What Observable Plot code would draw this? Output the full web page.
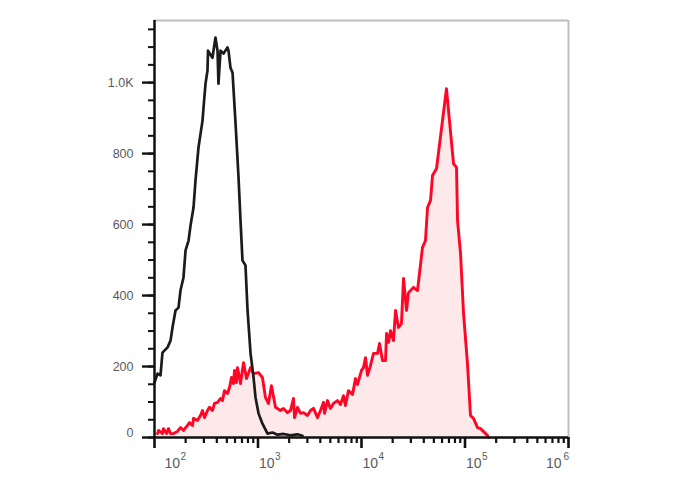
<!DOCTYPE html>
<html>
<head>
<meta charset="utf-8">
<script src="https://cdn.jsdelivr.net/npm/d3@7"></script>
<script src="https://cdn.jsdelivr.net/npm/@observablehq/plot@0.6"></script>
<style>
  html, body { margin: 0; padding: 0; background: #fff; }
  #chart svg { display: block; }
</style>
</head>
<body>
<div id="chart"></div>
<script>
// Black histogram (unstained control): log10 of fluorescence, event count
const blackLog = [2.000, 2.029, 2.058, 2.077, 2.126, 2.155, 2.174, 2.203, 2.232, 2.251, 2.280, 2.300, 2.329, 2.348, 2.377, 2.396, 2.425, 2.464, 2.473, 2.493, 2.512, 2.517, 2.560, 2.589, 2.609, 2.618, 2.638, 2.667, 2.705, 2.715, 2.734, 2.754, 2.783, 2.812, 2.831, 2.850, 2.879, 2.899, 2.928, 2.957, 2.976, 3.005, 3.043, 3.092, 3.140, 3.188, 3.250, 3.314, 3.380, 3.430];
const blackCount = [155, 180, 175, 239, 254, 273, 310, 358, 366, 414, 451, 527, 555, 597, 648, 724, 817, 893, 927, 997, 1034, 1090, 1070, 1127, 1090, 997, 1090, 1082, 1099, 1090, 1042, 1028, 885, 732, 611, 499, 485, 358, 237, 169, 113, 68, 39, 11, 14, 8, 10, 6, 9, 5];

// Red histogram (stained sample)
const redLog = [2.029, 2.039, 2.077, 2.087, 2.116, 2.135, 2.155, 2.184, 2.222, 2.251, 2.280, 2.319, 2.338, 2.367, 2.377, 2.415, 2.444, 2.464, 2.483, 2.512, 2.531, 2.560, 2.580, 2.609, 2.638, 2.657, 2.676, 2.705, 2.725, 2.744, 2.763, 2.773, 2.792, 2.802, 2.831, 2.860, 2.889, 2.928, 2.957, 3.005, 3.043, 3.072, 3.101, 3.130, 3.169, 3.217, 3.246, 3.285, 3.314, 3.343, 3.353, 3.382, 3.411, 3.440, 3.478, 3.507, 3.536, 3.575, 3.604, 3.633, 3.643, 3.671, 3.700, 3.729, 3.768, 3.797, 3.826, 3.845, 3.874, 3.913, 3.942, 3.961, 4.000, 4.019, 4.039, 4.058, 4.087, 4.116, 4.155, 4.174, 4.203, 4.232, 4.242, 4.261, 4.280, 4.309, 4.329, 4.357, 4.386, 4.406, 4.435, 4.454, 4.502, 4.541, 4.589, 4.618, 4.638, 4.667, 4.686, 4.725, 4.821, 4.889, 4.918, 4.928, 4.957, 4.986, 5.024, 5.053, 5.082, 5.121, 5.150, 5.217, 5.227];
const redCount = [11, 20, 11, 25, 11, 25, 11, 11, 17, 28, 20, 34, 42, 34, 54, 48, 62, 76, 56, 76, 85, 76, 96, 99, 110, 104, 132, 124, 141, 169, 152, 189, 155, 197, 152, 211, 166, 197, 180, 183, 169, 113, 96, 146, 85, 76, 82, 70, 76, 110, 56, 85, 68, 70, 62, 76, 82, 56, 76, 99, 68, 104, 82, 96, 104, 93, 118, 90, 132, 121, 166, 149, 189, 197, 225, 175, 203, 237, 237, 265, 217, 217, 293, 268, 301, 273, 358, 310, 321, 448, 358, 408, 423, 414, 535, 555, 648, 668, 738, 758, 983, 772, 761, 611, 518, 349, 208, 62, 54, 28, 25, 6, 0];

// Axis ticks and labels
const xMajor = [1e2, 1e3, 1e4, 1e5, 1e6];
const xExp = ["2", "3", "4", "5", "6"];
const xMinor = [2,3,4,5,6,7,8,9].flatMap(m => [1e2, 1e3, 1e4, 1e5].map(p => m * p));
const yMajor = [0, 200, 400, 600, 800, 1000];
const yLabels = ["0", "200", "400", "600", "800", "1.0K"];
const yMinor = d3.range(0, 1151, 50);
const yMax = 1175;

const black = blackLog.map((l, i) => ({x: 10 ** l, y: blackCount[i]}));
const red = redLog.map((l, i) => ({x: 10 ** l, y: redCount[i]}));

const font = "'Liberation Sans', Arial, Helvetica, sans-serif";
const labelColor = "#5a5a5a";

const xi = xMajor.map((d, i) => ({v: d, e: xExp[i], i}));
const yi = yMajor.map((d, i) => ({v: d, t: yLabels[i]}));

const chart = Plot.plot({
  width: 688,
  height: 490,
  marginLeft: 154,
  marginRight: 120,
  marginTop: 20,
  marginBottom: 53,
  style: {fontFamily: font, background: "#fff"},
  x: {type: "log", domain: [1e2, 1e6]},
  y: {domain: [0, yMax]},
  marks: [
    // histograms
    Plot.areaY(red, {x: "x", y: "y", fill: "#fde9ea"}),
    Plot.lineY(red, {x: "x", y: "y", stroke: "#ff0626", strokeWidth: 2.9, strokeLinejoin: "round"}),
    Plot.lineY(black, {x: "x", y: "y", stroke: "#1b1b1b", strokeWidth: 2.7, strokeLinejoin: "round"}),
    // frame: grey top/right, black left/bottom
    Plot.ruleY([yMax], {stroke: "#bdbdbd", strokeWidth: 2}),
    Plot.ruleX([1e6], {stroke: "#bdbdbd", strokeWidth: 2}),
    Plot.ruleX([1e2], {stroke: "#111", strokeWidth: 2.5}),
    Plot.ruleY([0], {stroke: "#111", strokeWidth: 2.5}),
    // y ticks
    Plot.axisY({ticks: yMajor, tickSize: 12, strokeWidth: 2.4, stroke: "#111", fill: "none", label: null}),
    Plot.axisY({ticks: yMinor, tickSize: 6, strokeWidth: 2, stroke: "#111", fill: "none", label: null}),
    // x ticks
    Plot.axisX({ticks: xMajor, tickSize: 11, strokeWidth: 2.6, stroke: "#111", fill: "none", label: null}),
    Plot.axisX({ticks: xMinor, tickSize: 6, strokeWidth: 2.2, stroke: "#111", fill: "none", label: null}),
    // y labels
    Plot.text(yi.filter(d => d.v !== 0), {y: "v", text: "t", frameAnchor: "left", dx: -21, textAnchor: "end", fontSize: 12.5, fill: labelColor}),
    Plot.text(yi.filter(d => d.v === 0), {y: "v", text: "t", frameAnchor: "left", dx: -21, dy: -5, textAnchor: "end", fontSize: 12.5, fill: labelColor}),
    // x labels "10" + exponent
    Plot.text(xi.filter(d => d.i === 0), {x: "v", text: () => "10", frameAnchor: "bottom", dy: 30, dx: 10, textAnchor: "start", fontSize: 14, fill: labelColor}),
    Plot.text(xi.filter(d => d.i === 0), {x: "v", text: "e", frameAnchor: "bottom", dy: 22, dx: 26, textAnchor: "start", fontSize: 10, fill: labelColor}),
    Plot.text(xi.filter(d => d.i > 0 && d.i < 4), {x: "v", text: () => "10", frameAnchor: "bottom", dy: 30, dx: 1, textAnchor: "start", fontSize: 14, fill: labelColor}),
    Plot.text(xi.filter(d => d.i > 0 && d.i < 4), {x: "v", text: "e", frameAnchor: "bottom", dy: 22, dx: 17, textAnchor: "start", fontSize: 10, fill: labelColor}),
    Plot.text(xi.filter(d => d.i === 4), {x: "v", text: () => "10", frameAnchor: "bottom", dy: 30, dx: -7, textAnchor: "end", fontSize: 14, fill: labelColor}),
    Plot.text(xi.filter(d => d.i === 4), {x: "v", text: "e", frameAnchor: "bottom", dy: 22, dx: -5, textAnchor: "start", fontSize: 10, fill: labelColor})
  ]
});
document.getElementById("chart").appendChild(chart);
</script>
</body>
</html>
